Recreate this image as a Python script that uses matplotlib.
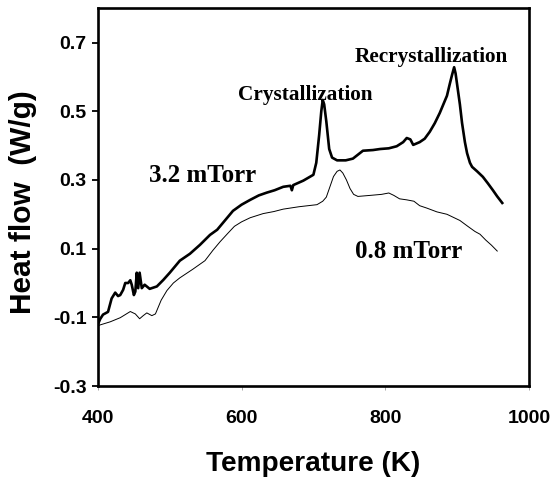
import matplotlib
matplotlib.use('Agg')
import matplotlib.pyplot as plt

# кривая при 3.2 mTorr (толстая линия)
temp_32 = [400, 403, 407, 414, 419, 424, 428, 431, 435, 438, 442, 445, 447, 450, 452, 454, 456, 458,
           461, 465, 472, 482, 491, 500, 514, 528, 542, 556, 566, 578, 588, 600, 612, 624, 635, 646,
           658, 668, 670, 672, 686, 700, 704, 708, 711, 713, 715, 718, 722, 726, 733, 745, 755, 769,
           783, 793, 805, 816, 825, 830, 835, 839, 848, 855, 862, 869, 876, 882, 886, 890, 893, 896,
           898, 900, 904, 907, 911, 914, 918, 921, 928, 936, 943, 950, 956, 963]
flow_32 = [-0.12, -0.105, -0.092, -0.084, -0.045, -0.028, -0.038, -0.035, -0.02, 0.0, 0.0, 0.008,
           -0.005, -0.035, -0.025, 0.03, -0.015, 0.03, -0.015, -0.005, -0.017, -0.01, 0.009, 0.03,
           0.065, 0.085, 0.111, 0.14, 0.155, 0.185, 0.21, 0.228, 0.242, 0.255, 0.263, 0.27, 0.28,
           0.283, 0.27, 0.285, 0.298, 0.315, 0.35, 0.43, 0.5, 0.533, 0.52, 0.47, 0.39, 0.365, 0.357,
           0.357, 0.362, 0.385, 0.387, 0.39, 0.392, 0.398, 0.41, 0.422, 0.418, 0.402, 0.41, 0.42,
           0.44, 0.465, 0.495, 0.525, 0.545, 0.58, 0.605, 0.628, 0.61, 0.58, 0.52, 0.466, 0.41,
           0.378, 0.35, 0.338, 0.325, 0.309, 0.29, 0.27, 0.252, 0.233]

# кривая при 0.8 mTorr (тонкая линия)
temp_08 = [400, 403, 417, 431, 445, 452, 458, 463, 468, 475, 480, 484, 488, 496, 505, 514, 532, 549,
           560, 570, 581, 590, 600, 612, 630, 645, 658, 680, 705, 713, 718, 723, 728, 733, 737, 741,
           746, 751, 756, 762, 779, 795, 805, 812, 820, 830, 840, 848, 858, 872, 886, 896, 904, 915,
           925, 932, 940, 948, 956]
flow_08 = [-0.125, -0.122, -0.113, -0.101, -0.083, -0.09, -0.104, -0.095, -0.087, -0.095, -0.09,
           -0.07, -0.05, -0.022, 0.0, 0.015, 0.04, 0.065, 0.095, 0.12, 0.145, 0.165, 0.178, 0.19,
           0.202, 0.208, 0.215, 0.222, 0.228, 0.238, 0.25, 0.28, 0.31, 0.325, 0.329, 0.32, 0.3,
           0.275, 0.258, 0.252, 0.255, 0.258, 0.262, 0.255, 0.245, 0.242, 0.238, 0.225, 0.218,
           0.207, 0.2, 0.19, 0.182, 0.165, 0.15, 0.142, 0.125, 0.11, 0.093]

x_ticks = [400, 600, 800, 1000]
y_ticks = [-0.3, -0.1, 0.1, 0.3, 0.5, 0.7]

fig = plt.figure(figsize=(5.52, 4.79), dpi=100)
ax = fig.add_axes([0.1775, 0.194, 0.7805, 0.789])

ax.plot(temp_32, flow_32, color='black', linewidth=1.9)  # толстая кривая
ax.plot(temp_08, flow_08, color='black', linewidth=0.7)  # тонкая кривая

ax.set_xlim(400, 1000)
ax.set_ylim(-0.3, 0.8)
ax.set_xticks(x_ticks)
ax.set_yticks(y_ticks)
ax.set_xticklabels([str(t) for t in x_ticks])
ax.set_yticklabels([f'{v:.1f}' for v in y_ticks])

for side in ['left', 'bottom', 'top', 'right']:
    ax.spines[side].set_linewidth(1.9)

tick_font = {'family': 'Liberation Sans', 'weight': 'bold', 'size': 14}
for lab in ax.get_xticklabels() + ax.get_yticklabels():
    lab.set_fontproperties(tick_font)
ax.tick_params(axis='y', direction='out', length=4, width=1.3, pad=4)
ax.tick_params(axis='x', direction='out', length=3, width=0.6, color='#999999', pad=14)

ax.set_xlabel('Temperature (K)', fontdict={'family': 'Liberation Sans', 'weight': 'bold', 'size': 20.2})
ax.set_ylabel('Heat flow  (W/g)', fontdict={'family': 'Liberation Sans', 'weight': 'bold', 'size': 21.5})
ax.xaxis.set_label_coords(0.5, -0.172)
ax.yaxis.set_label_coords(-0.142, 0.487)

# подписи на графике
note_font = {'family': 'Liberation Serif', 'weight': 'bold'}
ax.text(689, 0.547, 'Crystallization', ha='center', va='center', fontsize=15.3, **note_font)
ax.text(864, 0.657, 'Recrystallization', ha='center', va='center', fontsize=15.3, **note_font)
ax.text(546, 0.312, '3.2 mTorr', ha='center', va='center', fontsize=18, **note_font)
ax.text(833, 0.091, '0.8 mTorr', ha='center', va='center', fontsize=18, **note_font)

fig.savefig('out.png', dpi=100)
